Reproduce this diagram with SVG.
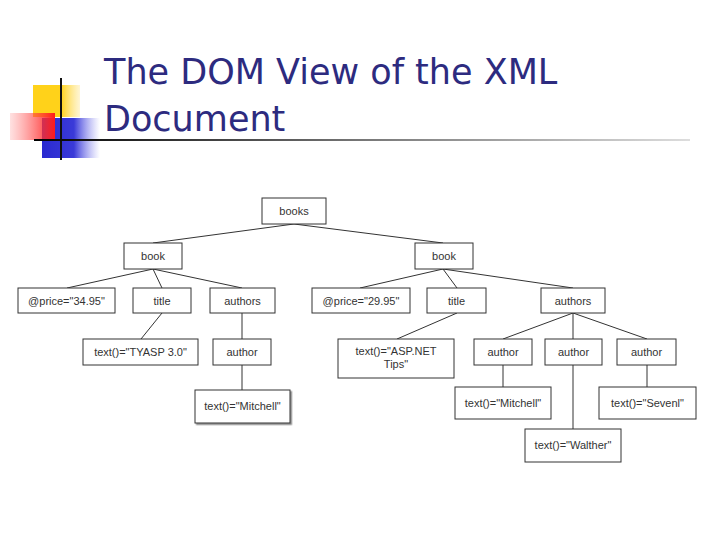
<svg xmlns="http://www.w3.org/2000/svg" width="720" height="540" viewBox="0 0 720 540">
<defs>
<linearGradient id="redg" x1="0" y1="0" x2="1" y2="0"><stop offset="0" stop-color="#ff6a6a" stop-opacity="0.2"/><stop offset="1" stop-color="#ff1a1a"/></linearGradient>
<linearGradient id="yelg" x1="0" y1="0" x2="1" y2="0"><stop offset="0" stop-color="#ffd21a"/><stop offset="0.6" stop-color="#ffd21a"/><stop offset="1" stop-color="#ffe070" stop-opacity="0.3"/></linearGradient>
<linearGradient id="blug" x1="0" y1="0" x2="1" y2="0"><stop offset="0" stop-color="#2a2ad0"/><stop offset="0.55" stop-color="#3a3ad8"/><stop offset="1" stop-color="#8080f0" stop-opacity="0"/></linearGradient>
<linearGradient id="lineg" x1="0" y1="0" x2="1" y2="0"><stop offset="0" stop-color="#000"/><stop offset="0.5" stop-color="#777"/><stop offset="1" stop-color="#ddd"/></linearGradient>
<filter id="sh" x="-10%" y="-10%" width="130%" height="140%"><feDropShadow dx="1.5" dy="1.5" stdDeviation="0.5" flood-color="#888"/></filter>
</defs>
<style>
.n rect{fill:#fff;stroke:#333;stroke-width:1}
.n text{font-family:"Liberation Sans",Arial,sans-serif;font-size:11px;fill:#333;text-anchor:middle}
#edges line{stroke:#333;stroke-width:1}
.t{font-family:"DejaVu Sans",Tahoma,sans-serif;font-size:35px;fill:#2d2b7f}
</style>
<rect width="720" height="540" fill="#fff"/>
<g id="decor">
<rect x="33" y="85" width="47" height="32" fill="url(#yelg)"/>
<rect x="42" y="118" width="58" height="40" fill="url(#blug)"/>
<rect x="10" y="113" width="45" height="27" fill="url(#redg)"/>
<line x1="61" y1="78" x2="61" y2="160" stroke="#111" stroke-width="2"/>
<rect x="34" y="139" width="656" height="2" fill="url(#lineg)"/>
</g>
<text class="t" x="104" y="84">The DOM View of the XML</text>
<text class="t" x="104" y="131">Document</text>
<g id="edges">
<line x1="294" y1="224" x2="153" y2="243"/>
<line x1="294" y1="224" x2="443" y2="243"/>
<line x1="153" y1="269" x2="67" y2="288"/>
<line x1="153" y1="269" x2="162" y2="288"/>
<line x1="153" y1="269" x2="242" y2="288"/>
<line x1="162" y1="313" x2="141" y2="339"/>
<line x1="242" y1="313" x2="242" y2="339"/>
<line x1="242" y1="365" x2="242" y2="390"/>
<line x1="443" y1="269" x2="360" y2="288"/>
<line x1="443" y1="269" x2="457" y2="288"/>
<line x1="443" y1="269" x2="573" y2="288"/>
<line x1="457" y1="313" x2="397" y2="339"/>
<line x1="573" y1="313" x2="503" y2="339"/>
<line x1="573" y1="313" x2="573" y2="339"/>
<line x1="573" y1="313" x2="647" y2="339"/>
<line x1="503" y1="365" x2="503" y2="387"/>
<line x1="573" y1="365" x2="573" y2="429"/>
<line x1="647" y1="365" x2="647" y2="387"/>
</g>
<g id="books" class="n"><rect x="262" y="198" width="64" height="26"/><text x="294" y="215">books</text></g>
<g id="book1" class="n"><rect x="124" y="243" width="58" height="26"/><text x="153" y="260">book</text></g>
<g id="book2" class="n"><rect x="415" y="243" width="58" height="26"/><text x="444" y="260">book</text></g>
<g id="price1" class="n"><rect x="18" y="288" width="97" height="25"/><text x="66.5" y="305">@price="34.95"</text></g>
<g id="title1" class="n"><rect x="133" y="288" width="58" height="25"/><text x="162" y="305">title</text></g>
<g id="authors1" class="n"><rect x="210" y="288" width="65" height="25"/><text x="242.5" y="305">authors</text></g>
<g id="price2" class="n"><rect x="312" y="288" width="98" height="25"/><text x="361" y="305">@price="29.95"</text></g>
<g id="title2" class="n"><rect x="427" y="288" width="59" height="25"/><text x="456.5" y="305">title</text></g>
<g id="authors2" class="n"><rect x="541" y="288" width="64" height="25"/><text x="573" y="305">authors</text></g>
<g id="text1" class="n"><rect x="83" y="339" width="115" height="26"/><text x="140.5" y="356">text()="TYASP 3.0"</text></g>
<g id="author1" class="n"><rect x="213" y="339" width="58" height="26"/><text x="242" y="356">author</text></g>
<g id="mitchell1" class="n"><rect x="195" y="390" width="95" height="33" filter="url(#sh)"/><text x="242.5" y="410">text()="Mitchell"</text></g>
<g id="text2" class="n"><rect x="338" y="339" width="116" height="39"/><text x="396" y="355">text()="ASP.NET</text><text x="396" y="368">Tips"</text></g>
<g id="author2a" class="n"><rect x="474" y="339" width="58" height="26"/><text x="503" y="356">author</text></g>
<g id="author2b" class="n"><rect x="545" y="339" width="57" height="26"/><text x="573.5" y="356">author</text></g>
<g id="author2c" class="n"><rect x="617" y="339" width="59" height="26"/><text x="646.5" y="356">author</text></g>
<g id="mitchell2" class="n"><rect x="455" y="387" width="96" height="32"/><text x="503" y="407">text()="Mitchell"</text></g>
<g id="sevenl" class="n"><rect x="599" y="387" width="97" height="32"/><text x="647.5" y="407">text()="Sevenl"</text></g>
<g id="walther" class="n"><rect x="525" y="429" width="96" height="33"/><text x="573" y="449">text()="Walther"</text></g>
</svg>
